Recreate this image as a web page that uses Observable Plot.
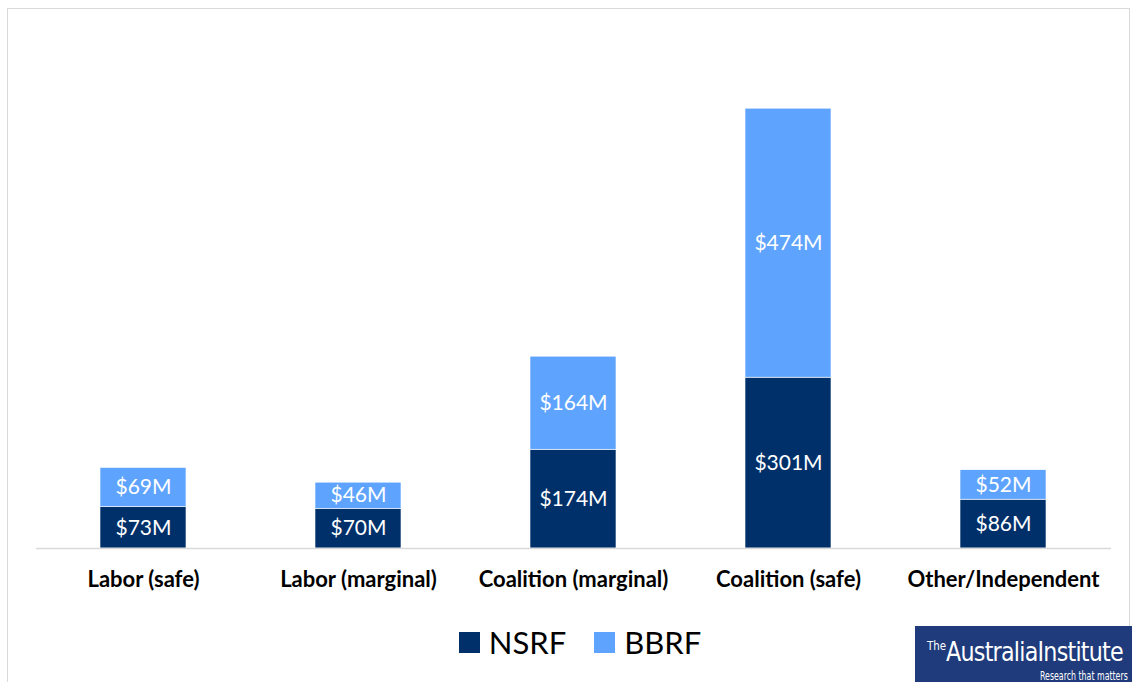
<!DOCTYPE html>
<html>
<head>
<meta charset="utf-8">
<script src="https://cdn.jsdelivr.net/npm/d3@7"></script>
<script src="https://cdn.jsdelivr.net/npm/@observablehq/plot@0.6"></script>
<style>
  html, body { margin: 0; padding: 0; background: #fff; }
  #wrap { position: relative; width: 1132px; height: 682px; overflow: hidden; font-family: Lato, "Open Sans", sans-serif; }
  #frame { position: absolute; left: 7px; top: 8px; width: 1123px; height: 700px; border: 1.5px solid #d9d9d9; box-sizing: border-box; }
  #chart { position: absolute; left: 0; top: 0; }
  #legend { position: absolute; top: 623px; left: 14px; width: 1132px; display: flex; justify-content: center; gap: 28px; font-size: 31px; color: #000; }
  .li { display: flex; align-items: center; }
  .sw { width: 21px; height: 21px; margin-right: 9px; }
  #logo { position: absolute; left: 915px; top: 626px; width: 230px; height: 60px; background: #1f3b7b; color: #fff; font-family: "Liberation Sans Narrow", "DejaVu Sans Condensed", "Roboto", sans-serif; font-stretch: condensed; }
  #logo .t1 { position: absolute; left: 12px; top: 11px; font-size: 26px; letter-spacing: -0.8px; white-space: nowrap; transform: scaleX(0.95); transform-origin: left center; }
  #logo .t1 sup { font-size: 12px; vertical-align: 11px; letter-spacing: 0; }
  #logo .t2 { position: absolute; left: 125px; top: 43px; font-size: 11.5px; white-space: nowrap; transform: scaleX(0.76); transform-origin: left center; }
</style>
</head>
<body>
<div id="wrap">
  <div id="frame"></div>
  <div id="chart"></div>
  <div id="legend"></div>
  <div id="logo"><div class="t1"><sup>The</sup>AustraliaInstitute</div><div class="t2">Research that matters</div></div>
</div>
<script>
const categories = ["Labor (safe)", "Labor (marginal)", "Coalition (marginal)", "Coalition (safe)", "Other/Independent"];
const series = ["NSRF", "BBRF"];
const nsrf = [73, 70, 174, 301, 86];
const bbrf = [69, 46, 164, 474, 52];
const colors = ["#00306a", "#5ea4fe"];

const data = [];
categories.forEach((c, i) => {
  data.push({category: c, series: "NSRF", value: nsrf[i]});
  data.push({category: c, series: "BBRF", value: bbrf[i]});
});

const plot = Plot.plot({
  width: 1132,
  height: 600,
  marginLeft: 36,
  marginRight: 21,
  marginTop: 94,
  marginBottom: 52,
  style: {fontFamily: "Lato, 'Open Sans', sans-serif", background: "transparent"},
  x: {domain: categories, paddingInner: 0.6, paddingOuter: 0.3, label: null},
  y: {domain: [0, 800], axis: null},
  color: {domain: series, range: colors},
  marks: [
    Plot.barY(data, Plot.stackY({x: "category", y: "value", fill: "series", stroke: "white", strokeWidth: 0.6})),
    Plot.text(data, Plot.stackY({x: "category", y: "value", z: "series", text: d => `$${d.value}M`, fill: "white", fontSize: 21})),
    Plot.ruleY([0], {stroke: "#d9d9d9", strokeWidth: 1.5}),
    Plot.axisX({tickSize: 0, tickPadding: 23, fontSize: 22, fontWeight: "bold", fill: "#000", label: null})
  ]
});
document.getElementById("chart").appendChild(plot);

const legend = document.getElementById("legend");
series.forEach((s, i) => {
  const item = document.createElement("div");
  item.className = "li";
  item.innerHTML = `<div class="sw" style="background:${colors[i]}"></div><span>${s}</span>`;
  legend.appendChild(item);
});
</script>
</body>
</html>
